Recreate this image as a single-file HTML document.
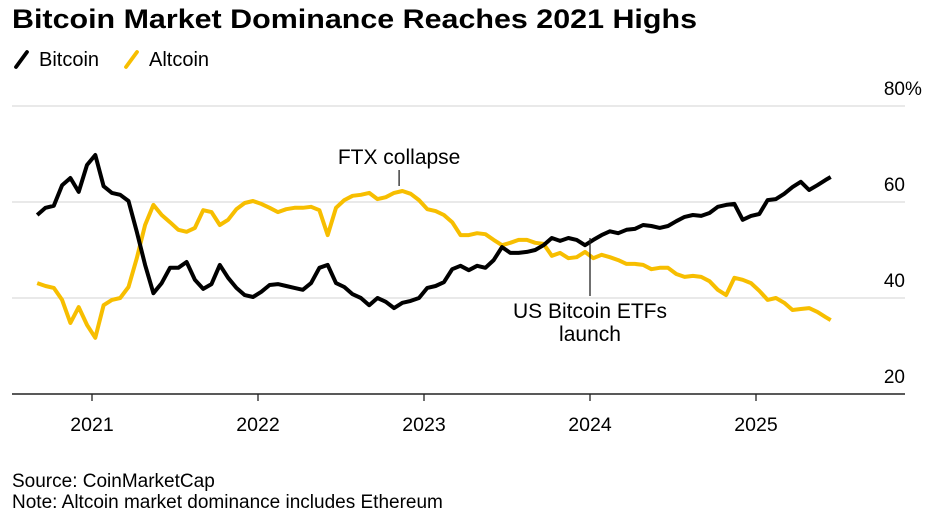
<!DOCTYPE html>
<html><head><meta charset="utf-8">
<style>
body{margin:0;background:#fff;font-family:"Liberation Sans",Arial,sans-serif;}
#wrap{position:relative;width:949px;height:514px;overflow:hidden;}
svg text{font-family:"Liberation Sans",Arial,sans-serif;}
</style></head>
<body>
<div id="wrap">
<svg id="chart" width="949" height="514">
  <text x="12" y="28" font-size="27" font-weight="bold" fill="#000" textLength="685" lengthAdjust="spacingAndGlyphs">Bitcoin Market Dominance Reaches 2021 Highs</text>
  <g>
    <line x1="16" y1="67" x2="27" y2="52" stroke="#000" stroke-width="3.8" stroke-linecap="round"/>
    <text x="39" y="66" font-size="20" fill="#000">Bitcoin</text>
  </g>
  <g>
    <line x1="126" y1="67" x2="137" y2="52" stroke="#F7BE00" stroke-width="3.8" stroke-linecap="round"/>
    <text x="149" y="66" font-size="20" fill="#000">Altcoin</text>
  </g>
  <g id="grid"></g>
  <g id="ylabels"></g>
  <g id="xaxis"></g>
  <g id="series"></g>
  <g id="annot"></g>
  <text x="12" y="487" font-size="19" fill="#000">Source: CoinMarketCap</text>
  <text x="12" y="508" font-size="19" fill="#000">Note: Altcoin market dominance includes Ethereum</text>
</svg>
</div>
<script>
const dates = [2020.67,2020.72,2020.77,2020.82,2020.87,2020.92,2020.97,2021.02,2021.07,2021.12,2021.17,2021.22,2021.27,2021.32,2021.37,2021.42,2021.47,2021.52,2021.57,2021.62,2021.67,2021.72,2021.77,2021.82,2021.87,2021.92,2021.97,2022.02,2022.07,2022.12,2022.17,2022.22,2022.27,2022.32,2022.37,2022.42,2022.47,2022.52,2022.57,2022.62,2022.67,2022.72,2022.77,2022.82,2022.87,2022.92,2022.97,2023.02,2023.07,2023.12,2023.17,2023.22,2023.27,2023.32,2023.37,2023.42,2023.47,2023.52,2023.57,2023.62,2023.67,2023.72,2023.77,2023.82,2023.87,2023.92,2023.97,2024.02,2024.07,2024.12,2024.17,2024.22,2024.27,2024.32,2024.37,2024.42,2024.47,2024.52,2024.57,2024.62,2024.67,2024.72,2024.77,2024.82,2024.87,2024.92,2024.97,2025.02,2025.07,2025.12,2025.17,2025.22,2025.27,2025.32,2025.37,2025.42,2025.45];
const bitcoin = [57.3,58.8,59.2,63.5,65.0,62.1,67.7,69.8,63.3,61.9,61.5,60.2,53.8,46.9,41.0,43.1,46.3,46.3,47.5,43.8,41.9,42.9,46.9,44.2,42.1,40.6,40.2,41.3,42.7,42.9,42.5,42.1,41.7,43.1,46.3,46.9,43.1,42.3,40.8,40.0,38.5,40.0,39.2,37.9,39.0,39.4,40.0,42.1,42.5,43.3,46.0,46.7,45.8,46.7,46.3,47.9,50.6,49.4,49.4,49.6,50.0,51.0,52.5,51.9,52.5,52.1,51.0,52.1,53.1,53.9,53.5,54.2,54.4,55.2,55.0,54.6,55.0,56.0,56.9,57.3,57.1,57.7,59.0,59.4,59.6,56.3,57.1,57.5,60.4,60.6,61.7,63.1,64.2,62.5,63.5,64.6,65.2];
const altcoin = [43.1,42.5,42.1,39.6,34.8,38.1,34.4,31.7,38.5,39.6,40.0,42.3,48.3,55.2,59.4,57.3,55.8,54.2,53.8,54.6,58.3,57.9,55.2,56.3,58.5,59.8,60.2,59.6,58.8,57.9,58.5,58.8,58.8,59.0,58.3,53.1,58.8,60.4,61.3,61.5,61.9,60.6,61.0,61.9,62.3,61.7,60.4,58.5,58.1,57.3,55.8,53.1,53.1,53.5,53.3,52.1,51.0,51.5,52.1,52.1,51.5,51.3,48.8,49.4,48.3,48.5,49.6,48.3,49.0,48.5,47.9,47.1,47.1,46.9,46.0,46.3,46.3,45.0,44.4,44.6,44.4,43.5,41.7,40.6,44.2,43.8,43.1,41.5,39.6,40.0,39.0,37.5,37.7,37.9,37.1,36.0,35.4];
const yTicks = [20,40,60,80];
const yTickLabels = ["20","40","60","80%"];
const xTicks = [2021,2022,2023,2024,2025];
const xTickLabels = ["2021","2022","2023","2024","2025"];
const annotationDates = [2022.85, 2024.0];

const NS = "http://www.w3.org/2000/svg";
const X0 = 12, X1 = 905;
function xs(t){ return 92 + (t - 2021) * 166; }
function ys(v){ return 202 - (v - 60) * 4.8; }
function mk(tag, attrs, parent){ const e = document.createElementNS(NS, tag); for (const k in attrs) e.setAttribute(k, attrs[k]); parent.appendChild(e); return e; }

const grid = document.getElementById('grid');
const yl = document.getElementById('ylabels');
yTicks.forEach((v, i) => {
  if (v !== 20) {
    const g = mk('line', {x1:X0, x2:X1, y1:ys(v), y2:ys(v), stroke:'#dcdcdc', 'stroke-width':1.3}, grid);
    
    
  }
  const lbl = yTickLabels[i];
  const num = lbl.replace('%','');
  const t = mk('text', {x:X1, y:ys(v) - 11, 'font-size':19, fill:'#000', 'text-anchor':'end'}, yl);
  t.textContent = num;
  
  
  if (lbl.indexOf('%') >= 0) {
    const p = mk('text', {x:X1, y:ys(v) - 11, 'font-size':19, fill:'#000'}, yl);
    p.textContent = '%';
    
    
  }
});

const xa = document.getElementById('xaxis');
const base = ys(20);
const al = mk('line', {x1:X0, x2:X1, y1:base, y2:base, stroke:'#222', 'stroke-width':1.4}, xa);


xTicks.forEach((t, i) => {
  const tk = mk('line', {x1:xs(t), x2:xs(t), y1:base, y2:base + 7, stroke:'#222', 'stroke-width':1.3}, xa);
  
  
  const tl = mk('text', {x:xs(t), y:base + 37, 'font-size':19.5, fill:'#000', 'text-anchor':'middle'}, xa);
  tl.textContent = xTickLabels[i];
  
  
});

const ser = document.getElementById('series');
function pathFor(vals){ return vals.map((v, i) => (i ? 'L' : 'M') + xs(dates[i]).toFixed(1) + ',' + ys(v).toFixed(1)).join(''); }
const pa = mk('path', {d:pathFor(altcoin), fill:'none', stroke:'#F7BE00', 'stroke-width':4, 'stroke-linejoin':'round'}, ser);


const pb = mk('path', {d:pathFor(bitcoin), fill:'none', stroke:'#000', 'stroke-width':4, 'stroke-linejoin':'round'}, ser);



const an = document.getElementById('annot');
const fx = xs(annotationDates[0]);
const fl = mk('line', {x1:fx, x2:fx, y1:170, y2:186, stroke:'#222', 'stroke-width':1.3}, an);


const ft = mk('text', {x:fx, y:164, 'font-size':21, fill:'#000', 'text-anchor':'middle'}, an);
ft.textContent = 'FTX collapse';


const ex = xs(annotationDates[1]);
const el = mk('line', {x1:ex, x2:ex, y1:238, y2:296, stroke:'#222', 'stroke-width':1.3}, an);


const et1 = mk('text', {x:ex, y:318, 'font-size':21, fill:'#000', 'text-anchor':'middle'}, an);
et1.textContent = 'US Bitcoin ETFs';


const et2 = mk('text', {x:ex, y:341, 'font-size':21, fill:'#000', 'text-anchor':'middle'}, an);
et2.textContent = 'launch';


</script>
</body></html>
